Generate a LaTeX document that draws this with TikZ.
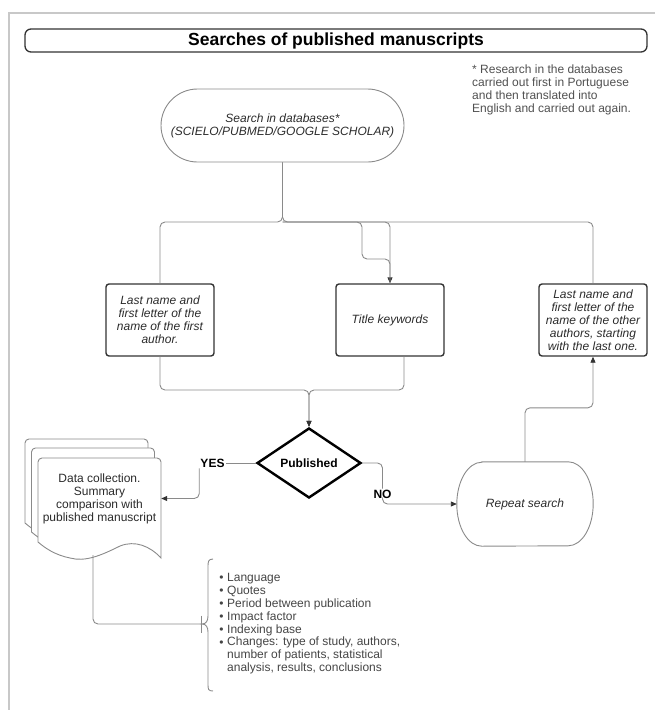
\documentclass[tikz,border=0pt]{standalone}
\usepackage{fontspec}
\setmainfont{Liberation Sans}
\usetikzlibrary{shapes.geometric,arrows.meta}

\definecolor{linegray}{HTML}{8A8A8A}
\definecolor{boxdark}{HTML}{333333}
\definecolor{textdark}{HTML}{2B2B2B}
\definecolor{notegray}{HTML}{505050}
\definecolor{itemgray}{HTML}{454545}
\definecolor{framegray}{HTML}{C8C8C8}

\def\rowsep{13}

\begin{document}
\begin{tikzpicture}[x=1pt,y=-1pt,>={Triangle[length=6pt,width=5pt,color=boxdark]},
    font=\fontsize{12}{13}\selectfont, text=textdark]
    \tikzstyle{conn}=[draw=linegray,line width=0.9pt,rounded corners=5pt]
    \tikzstyle{soft}=[draw=linegray,line width=0.9pt]
    \tikzstyle{box}=[draw=boxdark,line width=1.4pt,rounded corners=3pt,minimum width=108pt,
        minimum height=72pt,inner sep=2pt,align=center,font=\fontsize{12}{13}\selectfont\itshape]
    \tikzstyle{decision}=[diamond,draw=black,line width=2.4pt,minimum width=104pt,
        minimum height=70pt,inner sep=0pt,font=\fontsize{12}{13}\selectfont\bfseries,text=black]
    \tikzstyle{answer}=[inner sep=1pt,font=\fontsize{12}{13}\selectfont\bfseries,text=black]
    \tikzstyle{doc}=[draw=linegray,fill=white,line width=0.9pt]
    \tikzstyle{item}=[anchor=west,inner sep=0pt,text height=9pt,text depth=3pt,text=itemgray]
    \tikzstyle{dotmark}=[inner sep=0pt,text height=9pt,text depth=3pt,text=itemgray]

    \useasboundingbox (0,0) rectangle (655,710);

    % Draw the frame and the title
    \draw[framegray,line width=1.6pt] (9,710) -- (9,13) -- (655,13);
    \node[draw=boxdark,line width=1.3pt,rounded corners=6pt,minimum width=622pt,minimum height=23pt,
        inner sep=0pt,font=\fontsize{17.5}{20}\selectfont\bfseries,text=black] (title) at (336,40.5)
        {Searches of published manuscripts};

    % Footnote on the search
    \node[anchor=north west,align=left,inner sep=0pt,text=notegray] (note) at (472,65)
        {* Research in the databases\\carried out first in Portuguese\\and then translated into\\English and carried out again.};

    % Draw the search and the three queries
    \node[soft,rounded corners=36.5pt,minimum width=243pt,minimum height=73pt,align=center,
        font=\fontsize{12}{13}\selectfont\itshape] (search) at (282.5,125.5)
        {Search in databases*\\(SCIELO/PUBMED/GOOGLE SCHOLAR)};
    \node[box] (first) at (160,320) {Last name and\\first letter of the\\name of the first\\author.};
    \node[box] (keywords) at (390,320) {Title keywords};
    \node[box] (other) at (593,320) {Last name and\\first letter of the\\name of the other\\authors, starting\\with the last one.};

    % Draw the decision and the repeated search
    \node[decision] (published) at (309,463) {Published};
    \node[minimum width=136pt,minimum height=84pt,inner sep=0pt,
        font=\fontsize{12}{13}\selectfont\itshape] (repeat) at (525,504) {Repeat search};
    \draw[soft] ([xshift=25pt]repeat.north west) -- ([xshift=-25pt]repeat.north east)
        arc[start angle=90,end angle=-90,x radius=25pt,y radius=42pt]
        -- ([xshift=25pt]repeat.south west)
        arc[start angle=270,end angle=90,x radius=25pt,y radius=42pt] -- cycle;

    % Draw the stacked documents
    \foreach \dx/\dy in {-13/-19,-6.5/-10,0/0}
        \draw[doc,shift={(\dx,\dy)}] (38,542) [rounded corners=4pt] -- (38,458) -- (161,458)
            [sharp corners] -- (161,558) .. controls (150,546) and (135,540) .. (120,546)
            .. controls (100,556) and (85,562) .. (70,558)
            .. controls (55,555) and (45,548) .. (38,542) -- cycle;
    \node[minimum width=123pt,minimum height=81pt,align=center,inner sep=0pt] (data) at (99.5,498.5)
        {Data collection.\\Summary\\comparison with\\published manuscript};

    % Draw the brace
    \draw[soft] (213,559) .. controls (208,559) and (208,562) .. (208,567) -- (208,616)
        .. controls (208,621) and (206,624) .. (202,624) coordinate (tip)
        .. controls (206,624) and (208,627) .. (208,632) -- (208,684)
        .. controls (208,689) and (208,691) .. (213,691);

    % Draw the compared items
    \foreach \txt [count=\i] in {Language,Quotes,Period between publication,Impact factor,Indexing base} {
        \node[dotmark] (dot-\i) at (221.5,565+\rowsep*\i) {\textbullet};
        \node[item] (item-\i) at (227,565+\rowsep*\i) {\txt};
    }
    \node[dotmark] (dot-6) at (221.5,643) {\textbullet};
    \node[anchor=north west,align=left,inner sep=0pt,text=itemgray] (item-6) at (227,637)
        {Changes: type of study, authors,\\number of patients, statistical\\analysis, results, conclusions};

    % Connect the search with the queries
    \coordinate (split) at (282.5,222);
    \coordinate (kink) at (362,259);
    \draw[conn] (search.south) -- (split) -| (first.north);
    \draw[conn] (search.south) -- (split) -| (other.north);
    \draw[conn,->] (split) -| (keywords.north);
    \draw[conn] (split) -| (kink) -| (keywords.north);

    % Connect the queries with the decision
    \coordinate (merge) at (309,390);
    \draw[conn,->] (first.south) |- (merge) -- (published.north);
    \draw[conn,->] ([xshift=14pt]keywords.south) |- (merge) -- (published.north);

    % Answers of the decision
    \node[answer] (yes) at (212.5,463) {YES};
    \draw[conn] (published.west) -- (yes.east);
    \draw[conn,->] (yes.south west) |- (data.east);
    \node[answer] (no) at (382.5,494) {NO};
    \draw[conn] (published.east) -| (no.north);
    \draw[conn,->] (no.south) |- (repeat.west);
    \draw[conn,->] (repeat.north) -- ++(0,-54) -| (other.south);

    % Link the documents to the items
    \coordinate (docB) at (93,555);
    \draw[conn,-{Bar[width=17pt]}] (docB) |- (tip);
\end{tikzpicture}
\end{document}
